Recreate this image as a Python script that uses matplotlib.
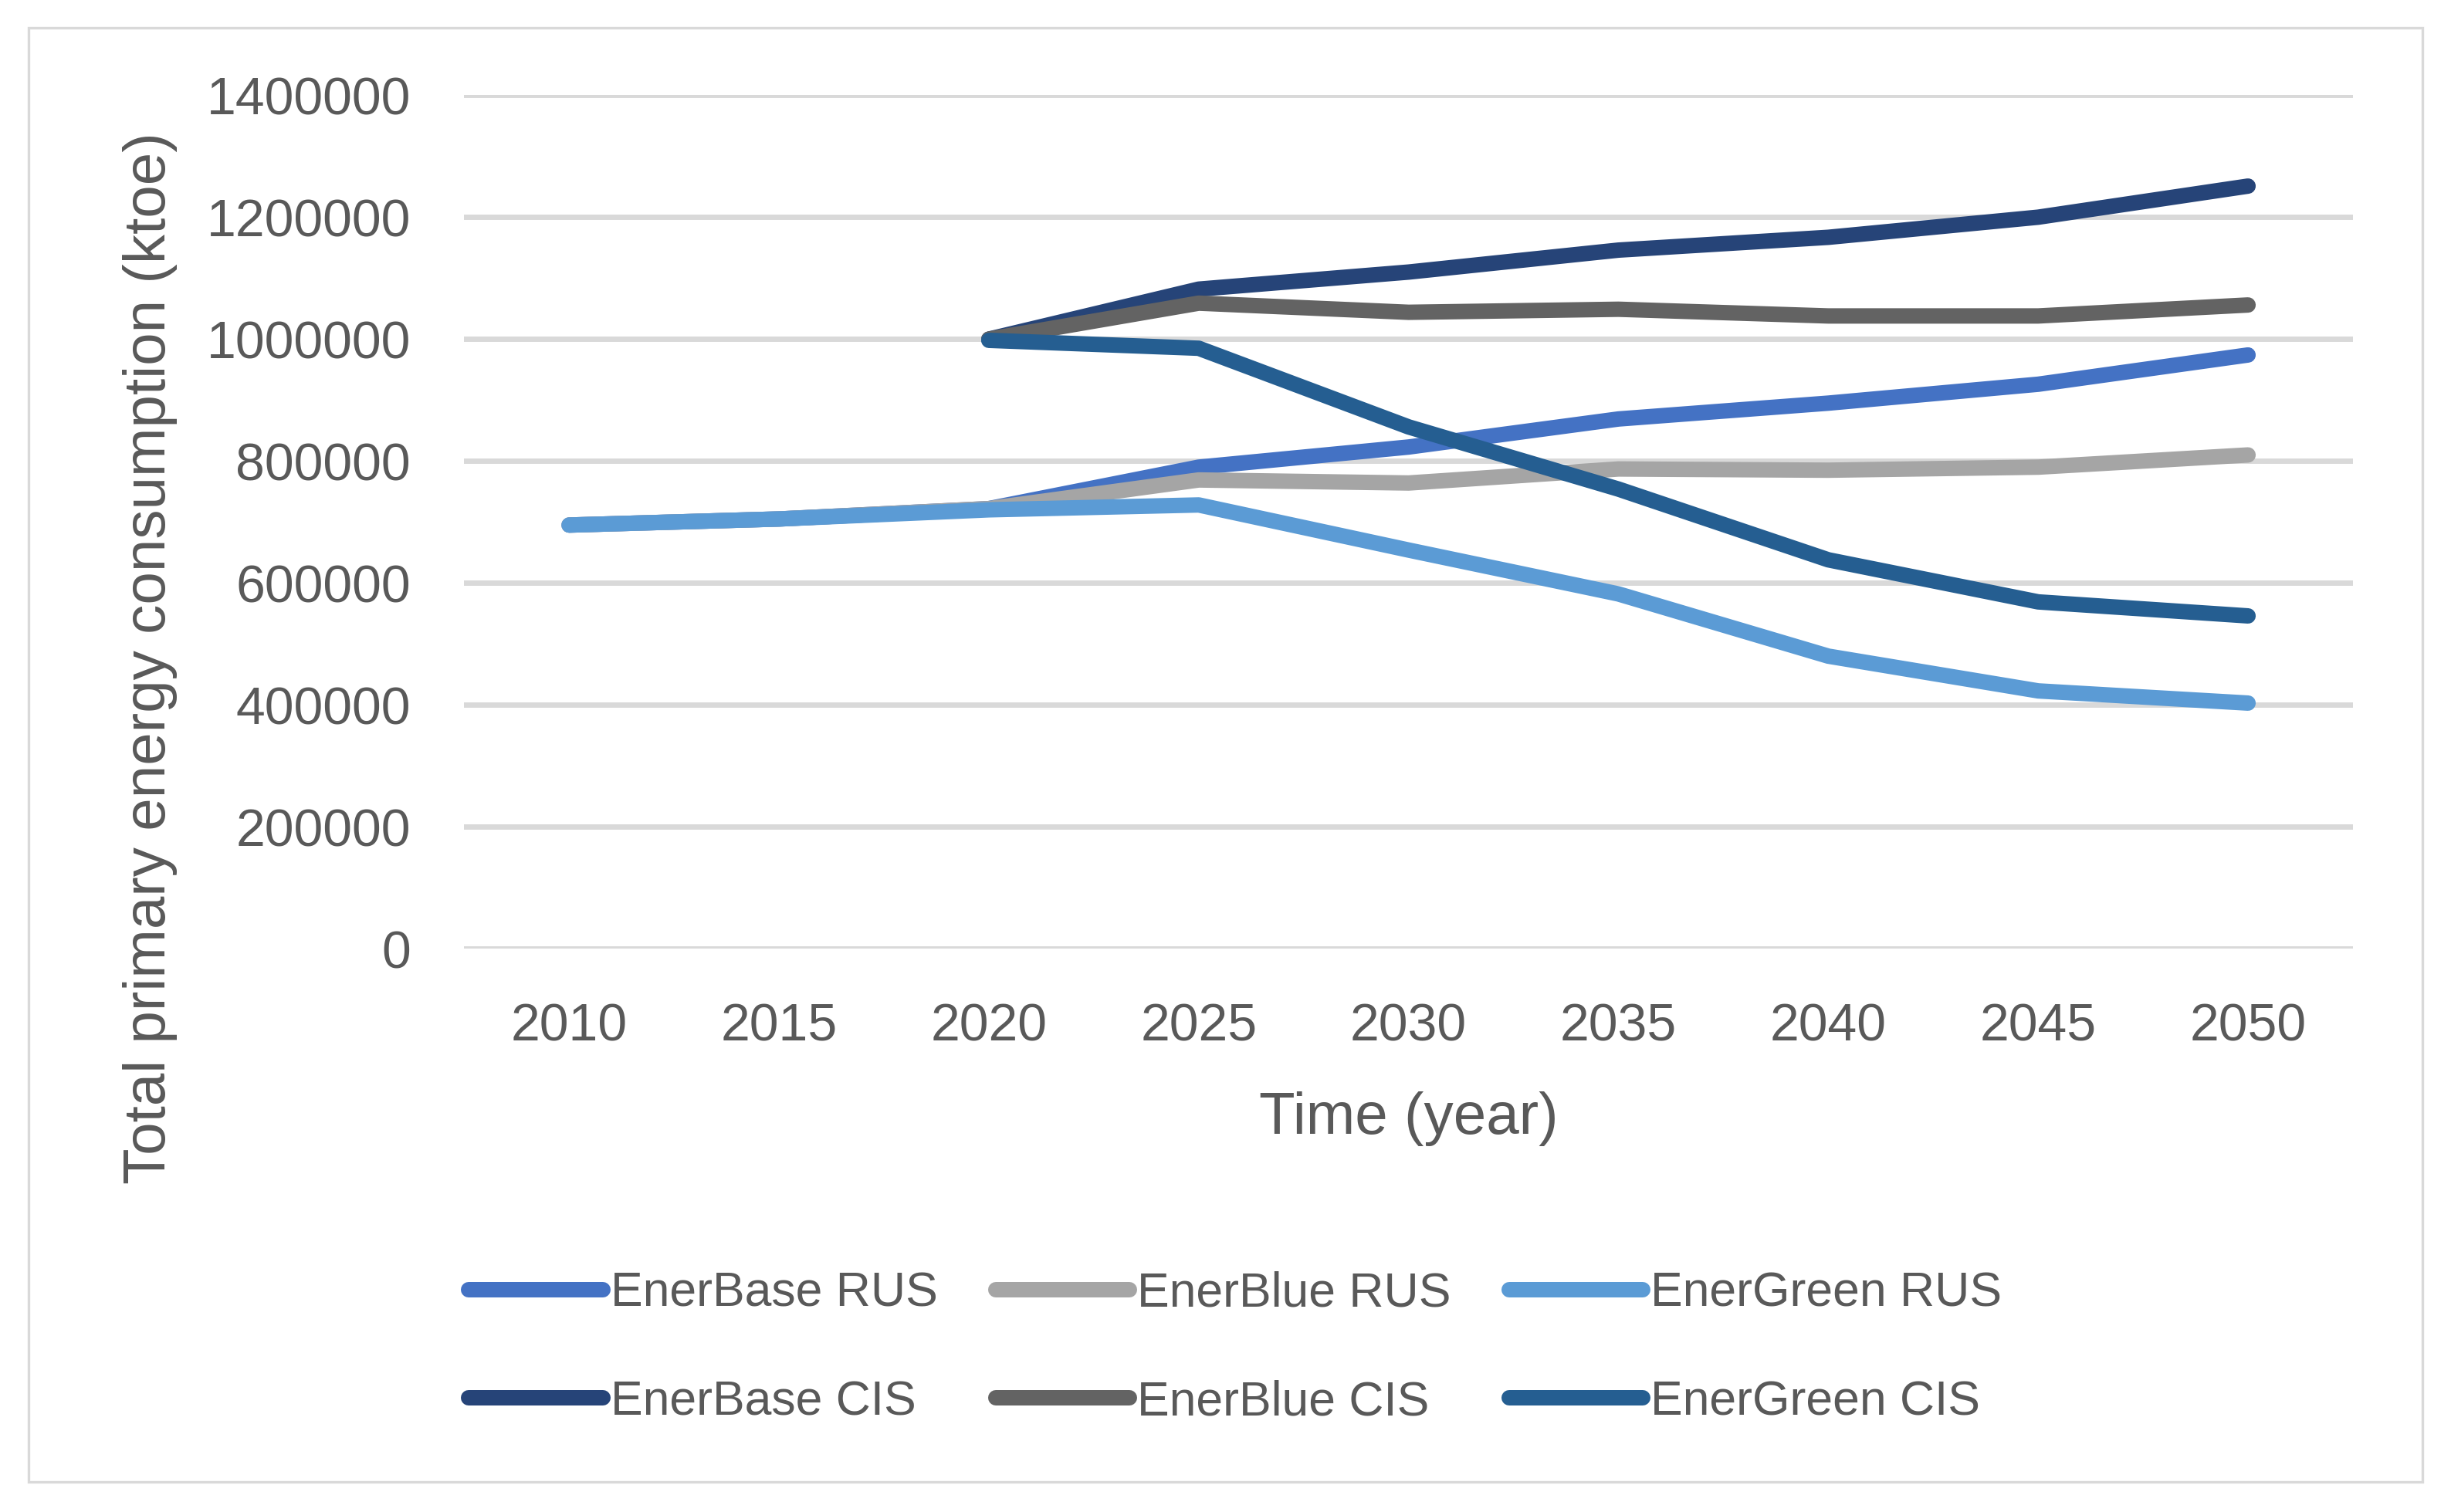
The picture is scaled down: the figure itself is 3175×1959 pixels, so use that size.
import matplotlib
matplotlib.use("Agg")
import matplotlib.pyplot as plt
import numpy as np
from matplotlib.patches import Rectangle

years = ["2010", "2015", "2020", "2025", "2030", "2035", "2040", "2045", "2050"]
nan = np.nan
enerbase_rus = [695000, 705000, 722000, 790000, 823000, 869000, 895000, 926000, 974000]
enerblue_rus = [695000, 705000, 722000, 769000, 764000, 787000, 785000, 790000, 810000]
energreen_rus = [695000, 705000, 720000, 728000, 654000, 582000, 480000, 423000, 403000]
enerbase_cis = [nan, nan, 1000000, 1082000, 1110000, 1146000, 1167000, 1200000, 1251000]
enerblue_cis = [nan, nan, 1000000, 1059000, 1044000, 1049000, 1038000, 1038000, 1056000]
energreen_cis = [nan, nan, 998000, 985000, 856000, 754000, 638000, 569000, 546000]

series_names = ["EnerBase RUS", "EnerBlue RUS", "EnerGreen RUS",
                "EnerBase CIS", "EnerBlue CIS", "EnerGreen CIS"]
series_values = [enerbase_rus, enerblue_rus, energreen_rus,
                 enerbase_cis, enerblue_cis, energreen_cis]
series_colors = ["#4472C4", "#A5A5A5", "#5B9BD5", "#264478", "#636363", "#255E91"]

yticks = [0, 200000, 400000, 600000, 800000, 1000000, 1200000, 1400000]

plt.rcParams['font.family'] = ['Liberation Sans', 'DejaVu Sans']
text_color = "#595959"

fig = plt.figure(figsize=(15.875, 9.795), dpi=200)
ax = fig.add_axes([0.1894, 0.3725, 0.7706, 0.5645])

x = np.arange(len(years))
handles = []
for name, vals, col in zip(series_names, series_values, series_colors):
    h, = ax.plot(x, vals, color=col, lw=7.2, solid_capstyle='round',
                 solid_joinstyle='round', label=name)
    handles.append(h)

ax.set_xlim(-0.5, len(years) - 0.5)
ax.set_ylim(0, 1400000)
ax.set_xticks(x)
ax.set_xticklabels(years)
ax.set_yticks(yticks)
ax.set_yticklabels([str(v) for v in yticks])
ax.grid(axis='y', color='#D9D9D9', lw=2.5, zorder=0)
ax.set_axisbelow(True)
for s in ax.spines.values():
    s.set_visible(False)
ax.tick_params(axis='both', length=0, labelsize=24.5, colors=text_color)
ax.tick_params(axis='y', pad=25)
ax.tick_params(axis='x', pad=25)

fig.text(0.0612, 0.5648, "Total primary energy consumption (ktoe)", rotation=90,
         ha='center', va='center', fontsize=27.5, color=text_color)
fig.text(0.5746, 1 - 716 / 967.4, "Time (year)", ha='center', va='center',
         fontsize=27.5, color=text_color)

# matplotlib fills legend columns first; reorder so rows read left-to-right
order = [0, 3, 1, 4, 2, 5]
leg = fig.legend(handles=[handles[i] for i in order],
                 labels=[series_names[i] for i in order], ncol=3, loc='center left',
                 bbox_to_anchor=(300 / 1568, 1 - 862.5 / 967.4), frameon=False,
                 fontsize=22.5, handlelength=2.77, handletextpad=0.16,
                 columnspacing=1.21, labelspacing=1.3, borderpad=0,
                 borderaxespad=0)
for t in leg.get_texts():
    t.set_color(text_color)

fig.patches.append(Rectangle((0.0115, 0.020), 0.977, 0.9614, transform=fig.transFigure,
                             fill=False, edgecolor='#D9D9D9', lw=1.2))

fig.savefig("out.png", dpi=200, facecolor='white')
